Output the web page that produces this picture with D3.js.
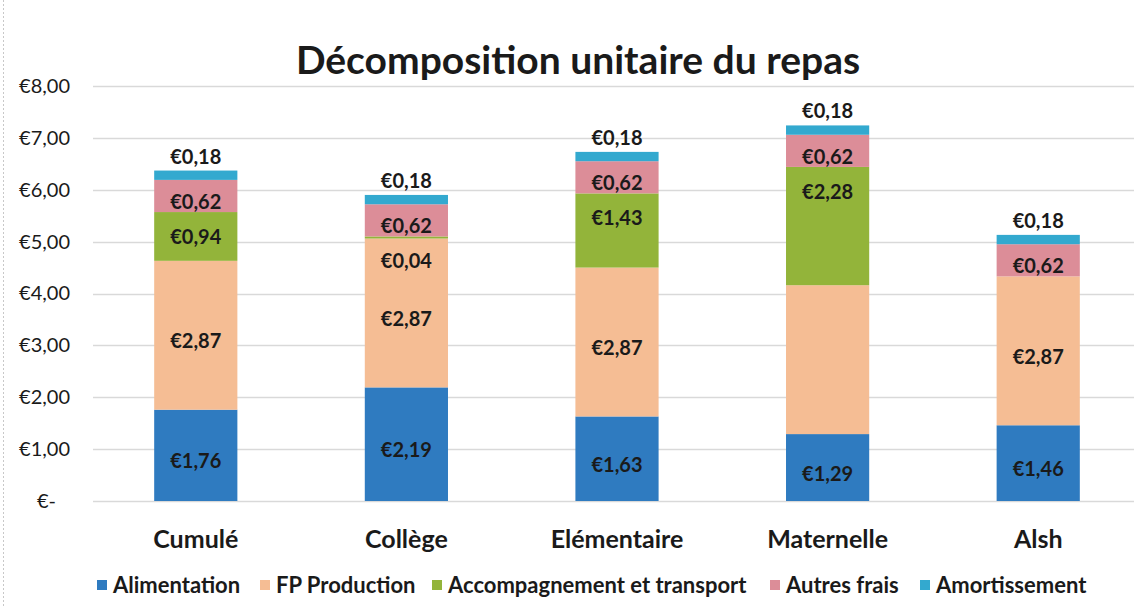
<!DOCTYPE html>
<html>
<head>
<meta charset="utf-8">
<script src="https://cdn.jsdelivr.net/npm/d3@7"></script>
<style>
  body { margin: 0; background: #fff; }
  text { font-family: Lato, "Open Sans", sans-serif; fill: #1a1a1a; }
</style>
</head>
<body>
<div id="chart"></div>
<script>
var categories = ["Cumulé", "Collège", "Elémentaire", "Maternelle", "Alsh"];
var seriesNames = ["Alimentation", "FP Production", "Accompagnement et transport", "Autres frais", "Amortissement"];
var alimentation = [1.76, 2.19, 1.63, 1.29, 1.46];
var fpProduction = [2.87, 2.87, 2.87, 2.87, 2.87];
var accompagnement = [0.94, 0.04, 1.43, 2.28, 0];
var autresFrais = [0.62, 0.62, 0.62, 0.62, 0.62];
var amortissement = [0.18, 0.18, 0.18, 0.18, 0.18];
var yTicks = [0, 1, 2, 3, 4, 5, 6, 7, 8];
// Maternelle FP Production label is absent in the source
var hiddenLabels = [[1, 3]];

var colors = ["#2f7bc0", "#f5bd94", "#93b43a", "#dc8d98", "#33a9cf"];

var svgWidth = 1134;
var svgHeight = 608;
var margin = { top: 86, right: 0, bottom: 107, left: 91 };
var chartWidth = svgWidth - margin.left - margin.right;
var chartHeight = svgHeight - margin.top - margin.bottom;

var svg = d3.select("#chart").append("svg")
  .attr("width", svgWidth)
  .attr("height", svgHeight);

// left frame edge of the scanned chart
svg.append("line")
  .attr("x1", 3.5).attr("x2", 3.5)
  .attr("y1", 0).attr("y2", svgHeight)
  .attr("stroke", "#c8c8c8")
  .attr("stroke-dasharray", "2,2");

svg.append("text")
  .attr("x", 578)
  .attr("y", 74)
  .attr("text-anchor", "middle")
  .style("font-size", "39px")
  .style("font-weight", "bold")
  .text("Décomposition unitaire du repas");

var chartGroup = svg.append("g")
  .attr("transform", `translate(${margin.left}, ${margin.top})`);

var xBandScale = d3.scaleBand()
  .domain(categories)
  .range([0, 1052])
  .paddingInner(0.605)
  .paddingOuter(0.3);

var yLinearScale = d3.scaleLinear()
  .domain([0, 8])
  .range([415, 0]);

// gridlines
chartGroup.append("g")
  .selectAll("line")
  .data(yTicks)
  .enter()
  .append("line")
  .attr("x1", 2)
  .attr("x2", chartWidth)
  .attr("y1", d => Math.round(yLinearScale(d)) + 0.5)
  .attr("y2", d => Math.round(yLinearScale(d)) + 0.5)
  .attr("stroke", "#d9d9d9")
  .attr("stroke-width", 1.3);

// y axis labels
var leftAxis = d3.axisLeft(yLinearScale)
  .tickValues(yTicks)
  .tickSize(0)
  .tickPadding(21)
  .tickFormat(d => d === 0 ? "€-" : "€" + d3.format(".2f")(d).replace(".", ","));

var yAxisG = chartGroup.append("g").call(leftAxis);
yAxisG.select(".domain").remove();
yAxisG.selectAll("text")
  .style("font-size", "20px")
  .style("font-family", "Lato, sans-serif")
  .attr("fill", "#1a1a1a")
  .attr("dx", d => d === 0 ? -14 : 0);

// x axis labels
var bottomAxis = d3.axisBottom(xBandScale).tickSize(0).tickPadding(29);
var xAxisG = chartGroup.append("g")
  .attr("transform", `translate(0, ${yLinearScale(0)})`)
  .call(bottomAxis);
xAxisG.select(".domain").remove();
xAxisG.selectAll("text")
  .style("font-size", "25px")
  .style("font-weight", "bold")
  .style("font-family", "Lato, sans-serif")
  .attr("fill", "#1a1a1a");

// stacked data
var table = categories.map((c, i) => ({
  cat: c,
  s0: alimentation[i],
  s1: fpProduction[i],
  s2: accompagnement[i],
  s3: autresFrais[i],
  s4: amortissement[i]
}));
var keys = ["s0", "s1", "s2", "s3", "s4"];
var stacked = d3.stack().keys(keys)(table);

var layers = chartGroup.selectAll(".layer")
  .data(stacked)
  .enter()
  .append("g")
  .attr("class", "layer")
  .attr("fill", (d, i) => colors[i]);

layers.selectAll("rect")
  .data(d => d)
  .enter()
  .append("rect")
  .attr("x", d => xBandScale(d.data.cat))
  .attr("y", d => yLinearScale(d[1]))
  .attr("width", xBandScale.bandwidth())
  .attr("height", d => yLinearScale(d[0]) - yLinearScale(d[1]));

function fmt(v) {
  return "€" + d3.format(".2f")(v).replace(".", ",");
}

function isHidden(si, ci) {
  return hiddenLabels.some(h => h[0] === si && h[1] === ci);
}

// data labels
stacked.forEach((layer, si) => {
  layer.forEach((d, ci) => {
    var v = d[1] - d[0];
    if (v <= 0 || isHidden(si, ci)) return;
    var y;
    if (si === 4) {
      y = yLinearScale(d[1]) - 14;
    } else if (si === 2) {
      y = yLinearScale(d[1]) + 25;
    } else {
      y = (yLinearScale(d[0]) + yLinearScale(d[1])) / 2 + 6;
    }
    chartGroup.append("text")
      .attr("x", xBandScale(d.data.cat) + xBandScale.bandwidth() / 2)
      .attr("y", y)
      .attr("dy", "0.35em")
      .attr("text-anchor", "middle")
      .style("font-size", "20px")
      .style("font-weight", "bold")
      .text(fmt(v));
  });
});

// legend
var legendX = [97, 260, 432, 770, 920];
var legend = svg.append("g");
seriesNames.forEach((name, i) => {
  var g = legend.append("g").attr("transform", `translate(${legendX[i]}, 585)`);
  g.append("rect")
    .attr("x", 0).attr("y", -5)
    .attr("width", 10).attr("height", 10)
    .attr("fill", colors[i]);
  g.append("text")
    .attr("x", 16)
    .attr("y", 0)
    .attr("dy", "0.35em")
    .style("font-size", "22px")
    .style("font-weight", "bold")
    .text(name);
});
</script>
</body>
</html>
